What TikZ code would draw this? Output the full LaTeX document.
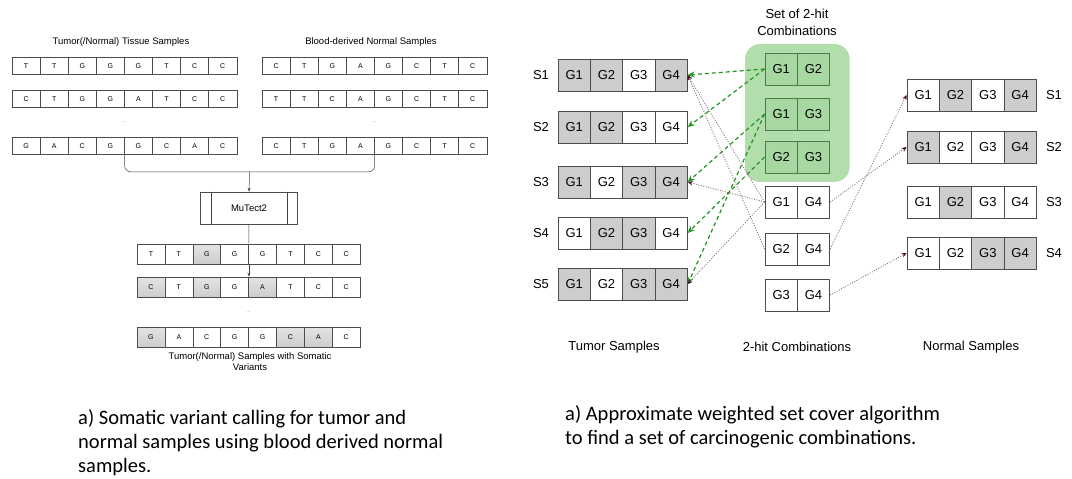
\documentclass[tikz,border=0pt]{standalone}
\usepackage{fontspec}
\setmainfont{Liberation Sans}
\newfontfamily\capfont{Carlito}
\usepackage{tikz}
\usetikzlibrary{arrows.meta,backgrounds,calc,positioning,fit}
\definecolor{cg}{RGB}{205,205,205}
\definecolor{setgreen}{RGB}{178,222,172}
\definecolor{hitgreen}{RGB}{168,216,162}
\definecolor{dashgreen}{RGB}{34,150,34}
\definecolor{dotbrown}{RGB}{135,105,115}
\definecolor{tipbrown}{RGB}{70,20,35}
\tikzset{
  lcell/.style={draw=black!70, line width=0.6pt, fill=white, minimum width=28.1pt, minimum height=17pt, inner sep=0pt, font=\fontsize{7}{8}\selectfont},
  bcell/.style={lcell, minimum width=27.9pt, minimum height=20pt},
  gcell/.style={draw=black!70, line width=0.9pt, fill=white, minimum width=32.3pt, minimum height=32pt, inner sep=0pt, font=\fontsize{13}{13}\selectfont},
  hcell/.style={gcell, draw=black!55!green!40!gray, fill=hitgreen},
  slabel/.style={font=\fontsize{13}{13}\selectfont},
  ttl/.style={font=\fontsize{9.5}{11}\selectfont, align=center},
  hitarrow/.style={dashgreen, dashed, dash pattern=on 4pt off 3pt, line width=1.2pt, -{Stealth[length=7pt,width=6pt]}},
  covarrow/.style={dotbrown, dash pattern=on 1pt off 1.5pt, line width=0.8pt, -{Stealth[length=5pt,width=4.5pt,tipbrown]}},
  flow/.style={black!75, line width=0.5pt},
  capt/.style={anchor=base west, inner sep=0pt, align=left, font=\capfont\fontsize{20.5}{24}\selectfont}
}
\begin{document}
\begin{tikzpicture}[x=1pt,y=-1pt]
\useasboundingbox (0,0) rectangle (1072,479);
% left panel: reads
\node[ttl] (tumttl) at (121,42) {Tumor(/Normal) Tissue Samples};
\node[ttl] (bldttl) at (371,42) {Blood-derived Normal Samples};
\foreach \c [count=\i] in {T,T,G,G,G,T,C,C}
  \node[lcell] (la1-\i) at (-2.05+28.1*\i,66) {\c};
\foreach \c [count=\i] in {C,T,G,G,A,T,C,C}
  \node[lcell] (la2-\i) at (-2.05+28.1*\i,99) {\c};
\foreach \c [count=\i] in {G,A,C,G,G,C,A,C}
  \node[lcell] (la3-\i) at (-2.05+28.1*\i,146) {\c};
\foreach \c [count=\i] in {C,T,G,A,G,C,T,C}
  \node[lcell] (ra1-\i) at (247.95+28.1*\i,66) {\c};
\foreach \c [count=\i] in {T,T,C,A,G,C,T,C}
  \node[lcell] (ra2-\i) at (247.95+28.1*\i,99) {\c};
\foreach \c [count=\i] in {C,T,G,A,G,C,T,C}
  \node[lcell] (ra3-\i) at (247.95+28.1*\i,146) {\c};
\node[font=\tiny, black!50] (ladots) at (124.5,122) {...};
\node[font=\tiny, black!50] (radots) at (374.5,122) {...};

% merge into MuTect2
\draw[flow, rounded corners=6pt] (la3-4.south east) -- ++(0,17) -| (ra3-4.south east);
\coordinate (join) at ($(la3-4.south east)!.5!(ra3-4.south east)+(0,17)$);
\node[draw=black!70, line width=0.6pt, minimum width=97pt, minimum height=32pt, font=\fontsize{9.5}{11}\selectfont] (mutect) at (249,208) {MuTect2};
\draw[flow] ($(mutect.north west)+(11,0)$) -- ($(mutect.south west)+(11,0)$);
\draw[flow] ($(mutect.north east)+(-11,0)$) -- ($(mutect.south east)+(-11,0)$);
\draw[flow, -{Stealth[length=4pt,width=3pt]}] (join) -- (mutect.north);

% somatic variants
\foreach \c/\f [count=\i] in {T/white,T/white,G/cg,G/white,G/white,T/white,C/white,C/white}
  \node[bcell, top color=\f!55!white, bottom color=\f] (lb1-\i) at (123.05+27.9*\i,254) {\c};
\foreach \c/\f [count=\i] in {C/cg,T/white,G/cg,G/white,A/cg,T/white,C/white,C/white}
  \node[bcell, top color=\f!55!white, bottom color=\f] (lb2-\i) at (123.05+27.9*\i,287) {\c};
\foreach \c/\f [count=\i] in {G/cg,A/white,C/white,G/white,G/white,C/cg,A/cg,C/white}
  \node[bcell, top color=\f!55!white, bottom color=\f] (lb3-\i) at (123.05+27.9*\i,337) {\c};
\node[font=\tiny, black!50] (lbdots) at (248.5,312) {...};
\draw[flow] (mutect.south) -- (lb1-4.north east);
\draw[flow, -{Stealth[length=4pt,width=3pt]}] (lb1-4.south east) -- (lb2-4.north east);
\node[ttl] (somttl) at (250,362) {Tumor(/Normal) Samples with Somatic\\Variants};

% right panel: tumor samples
\foreach \s/\y/\a/\b/\c/\d in {1/75/cg/cg/white/cg, 2/127/cg/cg/white/white, 3/182/cg/white/cg/cg, 4/233/white/cg/cg/white, 5/284/cg/white/cg/cg}{
  \node[slabel] (tl\s) at (541,\y) {S\s};
  \node[gcell, fill=\a] (tum\s-1) at (574.2,\y) {G1};
  \node[gcell, fill=\b] (tum\s-2) at (606.5,\y) {G2};
  \node[gcell, fill=\c] (tum\s-3) at (638.8,\y) {G3};
  \node[gcell, fill=\d] (tum\s-4) at (671.1,\y) {G4};
}
% normal samples
\foreach \s/\y/\a/\b/\c/\d in {1/95/white/cg/white/cg, 2/147/cg/white/white/cg, 3/202/white/cg/white/white, 4/253/white/white/cg/cg}{
  \node[gcell, fill=\a] (nor\s-1) at (923.2,\y) {G1};
  \node[gcell, fill=\b] (nor\s-2) at (955.5,\y) {G2};
  \node[gcell, fill=\c] (nor\s-3) at (987.8,\y) {G3};
  \node[gcell, fill=\d] (nor\s-4) at (1020.1,\y) {G4};
  \node[slabel] (nl\s) at (1054,\y) {S\s};
}
% 2-hit combinations
\foreach \n/\y/\p/\q in {c12/69/G1/G2, c13/114/G1/G3, c23/157/G2/G3}{
  \node[hcell] (\n-1) at (781.2,\y) {\p};
  \node[hcell] (\n-2) at (813.5,\y) {\q};
}
\foreach \n/\y/\p/\q in {c14/202/G1/G4, c24/249/G2/G4, c34/295/G3/G4}{
  \node[gcell] (\n-1) at (781.2,\y) {\p};
  \node[gcell] (\n-2) at (813.5,\y) {\q};
}
\begin{scope}[on background layer]
  \node[fill=setgreen, rounded corners=15pt, inner xsep=19.5pt, inner ysep=8.5pt, fit=(c12-1)(c23-2)] (hitset) {};
\end{scope}
\node[slabel, align=center, font=\fontsize{13}{17}\selectfont] (setttl) at (797,22) {Set of 2-hit\\Combinations};

% cover arrows
\draw[hitarrow] (c12-1.west) -- (tum1-4.east);
\draw[hitarrow] (c12-1.west) -- (tum2-4.east);
\draw[hitarrow] (c13-1.west) -- (tum3-4.east);
\draw[hitarrow] (c13-1.west) -- (tum5-4.east);
\draw[hitarrow] (c23-1.west) -- (tum4-4.east);
\draw[covarrow] (c14-1.west) -- (tum1-4.east);
\draw[covarrow] (c14-1.west) -- (tum3-4.east);
\draw[covarrow] (c14-1.west) -- (tum5-4.east);
\draw[covarrow] (c24-1.west) -- (tum1-4.east);
\draw[covarrow] (c14-2.east) -- (nor2-1.west);
\draw[covarrow] (c24-2.east) -- (nor1-1.west);
\draw[covarrow] (c34-2.east) -- (nor4-1.west);

\node[slabel] (tumlbl) at (614,347) {Tumor Samples};
\node[slabel] (hitlbl) at (797,347) {2-hit Combinations};
\node[slabel] (norlbl) at (971,347) {Normal Samples};

% captions
\node[capt] (capa) at (78,472)
  {a) Somatic variant calling for tumor and\\normal samples using blood derived normal\\samples.};
\node[capt] (capb) at (565,444)
  {a) Approximate weighted set cover algorithm\\to find a set of carcinogenic combinations.};
\end{tikzpicture}
\end{document}
